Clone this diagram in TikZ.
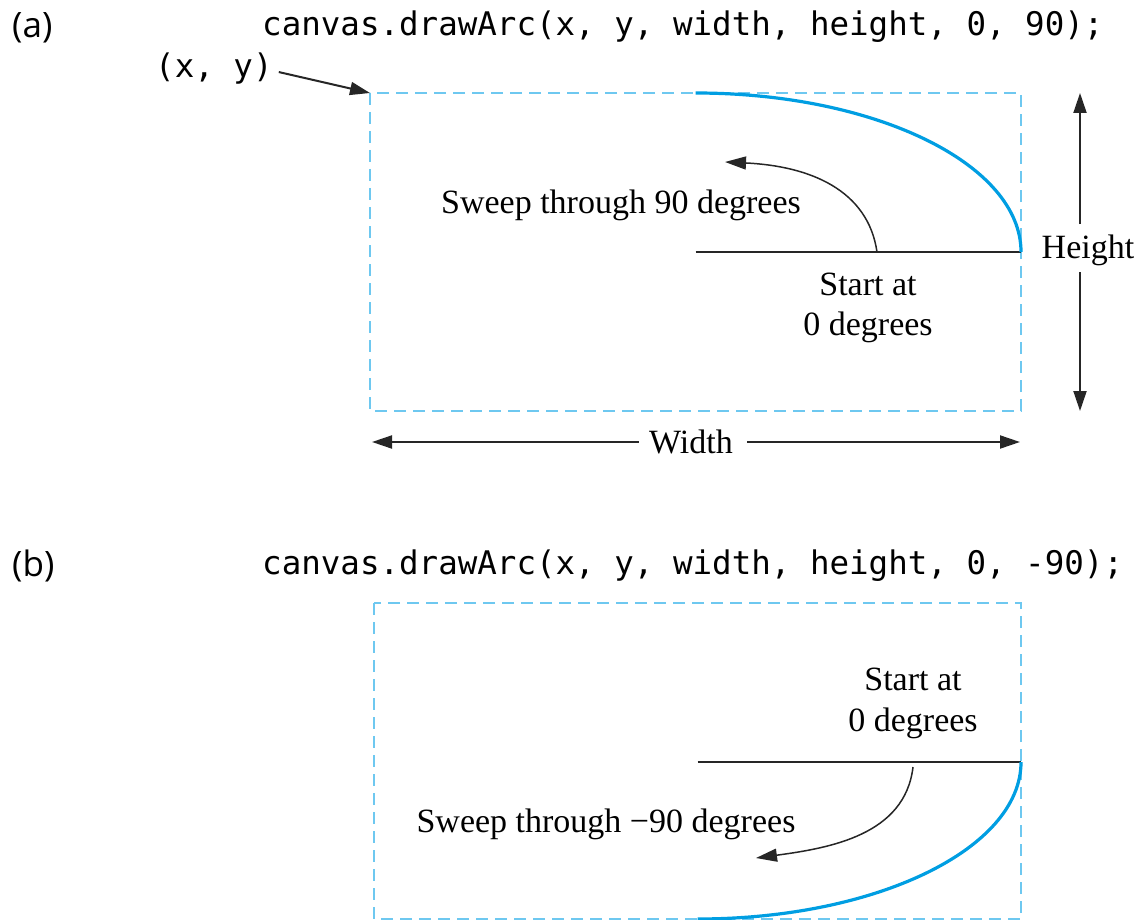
\documentclass[tikz,border=0pt]{standalone}
\usepackage{fontspec}
\setmainfont{Liberation Serif}
\setsansfont{Open Sans}
\setmonofont{DejaVu Sans Mono}
\usetikzlibrary{arrows.meta}
\definecolor{framecyan}{RGB}{110,200,240}
\definecolor{arcblue}{RGB}{0,158,226}
\tikzset{
  label/.style={font=\fontsize{34}{38}\selectfont, inner sep=0pt},
  code/.style={font=\fontsize{32.5}{36}\selectfont\ttfamily, inner sep=0pt, anchor=base west},
  part/.style={font=\fontsize{35}{38}\selectfont\sffamily, inner sep=0pt, anchor=base west},
  bounds/.style={draw=framecyan, line width=1.6pt, dash pattern=on 12pt off 7pt},
  arcline/.style={draw=arcblue, line width=3.2pt},
  baseline0/.style={draw=black!85, line width=2pt},
  dimarrow/.style={draw=black!85, line width=2pt, -{Triangle[length=20pt,width=13pt]}},
  sweep/.style={draw=black!85, line width=1.5pt, -{Triangle[length=21pt,width=13pt]}},
}
\begin{document}
\begin{tikzpicture}[x=1pt,y=-1pt]
\useasboundingbox (0,0) rectangle (1142,920);

% ---------- (a) ----------
\node[part] (pa) at (12,38) {(a)};
\node[code] (ca) at (262,36) {canvas.drawArc(x, y, width, height, 0, 90);};
\node[code] (xy) at (155,78) {(x, y)};

\draw[bounds] (370,93) coordinate (tl) rectangle (1021,411) coordinate (br);
\coordinate (a0) at (1021,252);
\coordinate (ac) at (695.5,252);
\draw[dimarrow] (xy.east) ++(6pt,-3pt) coordinate (xyend) -- (tl);

\draw[baseline0] (ac) -- (a0);
\draw[arcline] (a0) arc[start angle=0, end angle=90, x radius=325.5pt, y radius=159pt];

\coordinate (sa1) at (877,252);
\coordinate (sa2) at (725,162);
\draw[sweep] (sa1) .. controls (868,190) and (810,166) .. (sa2);

\node[label, anchor=base] (swa) at (621,213) {Sweep through 90 degrees};
\node[label, anchor=base] (sta1) at (868,295) {Start at};
\node[label, anchor=base] (sta2) at (868,335) {0 degrees};

\node[label, anchor=base] (ht) at (1088,258) {Height};
\coordinate (htop) at (1080,93);
\coordinate (hbot) at (1080,411);
\draw[dimarrow] (1080,224) -- (htop);
\draw[dimarrow] (1080,272) -- (hbot);

\node[label, anchor=base] (wd) at (691,453) {Width};
\coordinate (wl) at (372,442);
\coordinate (wr) at (1020,442);
\draw[dimarrow] ([xshift=-10pt]wd.west |- wl) -- (wl);
\draw[dimarrow] ([xshift=14pt]wd.east |- wr) -- (wr);

% ---------- (b) ----------
\node[part] (pb) at (12,576) {(b)};
\node[code] (cb) at (262,574) {canvas.drawArc(x, y, width, height, 0, -90);};

\draw[bounds] (374,603) rectangle (1021,919);
\coordinate (b0) at (1021,762);
\coordinate (bc) at (697.5,762);
\draw[baseline0] (bc) -- (b0);
\draw[arcline] (b0) arc[start angle=0, end angle=-90, x radius=323.5pt, y radius=157pt];

\node[label, anchor=base] (stb1) at (913,690) {Start at};
\node[label, anchor=base] (stb2) at (913,731) {0 degrees};

\coordinate (sb1) at (913,767);
\coordinate (sb2) at (756,858);
\draw[sweep] (sb1) .. controls (905,835) and (830,848) .. (sb2);

\node[label, anchor=base] (swb) at (606,832) {Sweep through −90 degrees};
\end{tikzpicture}
\end{document}
